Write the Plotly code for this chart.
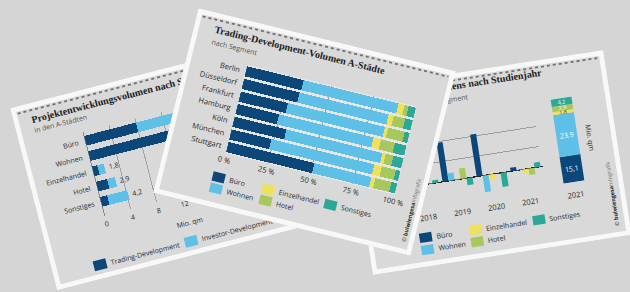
import json
import plotly.graph_objects as go

# ------------------------------------------------------------------ data
SEGMENTS = ["Büro", "Wohnen", "Einzelhandel", "Hotel", "Sonstiges"]

# Card 1: Projektentwicklungsvolumen nach Segment (Mio. qm)
c1_segments = ["Büro", "Wohnen", "Einzelhandel", "Hotel", "Sonstiges"]
c1_series = ["Trading-Development", "Investor-Development"]
c1_trading = [8.0, 14.6, 0.8, 1.7, 1.1]
c1_investor = [7.1, 9.3, 1.0, 1.2, 3.1]
c1_ticks = [0, 4, 8, 12, 16, 20, 24]

# Card 2: Trading-Development-Volumen A-Städte (Anteile in %)
c2_cities = ["Berlin", "Düsseldorf", "Frankfurt", "Hamburg", "Köln", "München", "Stuttgart"]
c2_buero = [33.5, 32.9, 27.9, 24.5, 30.7, 23.6, 50.9]
c2_wohnen = [56.2, 52.8, 57.4, 55.9, 56.8, 61.0, 33.7]
c2_einzel = [3.6, 3.0, 2.0, 4.5, 2.0, 4.4, 2.4]
c2_hotel = [2.4, 6.9, 9.8, 8.2, 4.6, 8.4, 9.5]
c2_sonst = [4.3, 4.4, 2.9, 6.9, 5.9, 2.6, 3.5]
c2_ticks = [0, 25, 50, 75, 100]
c2_ticklabels = ["0 %", "25 %", "50 %", "75 %", "100 %"]

# Card 3: Veränderung nach Studienjahr (Mio. qm) + Volumen 2021
c3_years = ["2018", "2019", "2020", "2021"]
c3_buero = [1.2, 3.9, 4.2, 0.35]
c3_wohnen = [2.2, 0.75, -1.65, 0.05]
c3_einzel = [-0.2, 0.05, -0.55, -0.4]
c3_hotel = [0.05, 1.05, 0.02, -0.65]
c3_sonst = [0.3, -0.7, -1.4, 0.5]
c3_stack_year = "2021"
c3_stack = [15.1, 23.9, 1.8, 2.9, 4.2]

# ------------------------------------------------------------------ styles
BG = "#d5d5d5"
INNER = "#d9d9d9"
BORDER = "#f8f8f8"
TEXT = "#2a2a2a"
SANS = "Open Sans"
SERIF = "Liberation Serif"
COLORS = ["#0b4778", "#5ec0e6", "#efe25a", "#a7c85c", "#2ba897"]


def fx(x, W):
    return x / W


def fy(y, H):
    return 1 - y / H


def frame(W, H):
    return [
        dict(type="line", xref="paper", yref="paper", x0=fx(6, W), x1=fx(W - 6, W),
             y0=fy(7, H), y1=fy(7, H), line=dict(color="#707070", width=1.8, dash="dot"),
             layer="above"),
        dict(type="rect", xref="paper", yref="paper", x0=0, x1=1, y0=0, y1=1,
             line=dict(color=BORDER, width=10), fillcolor="rgba(0,0,0,0)", layer="above"),
    ]


def legend_items(entries, W, H, sw=12.5, sh=9.5, size=7):
    shapes, annos = [], []
    for label, color, cx, cy in entries:
        shapes.append(dict(type="rect", xref="paper", yref="paper",
                           x0=fx(cx - sw / 2, W), x1=fx(cx + sw / 2, W),
                           y0=fy(cy + sh / 2, H), y1=fy(cy - sh / 2, H),
                           fillcolor=color, line=dict(width=0), layer="above"))
        annos.append(dict(xref="paper", yref="paper", x=fx(cx + sw / 2 + 2.5, W), y=fy(cy, H),
                          text=label, showarrow=False, xanchor="left", yanchor="middle",
                          font=dict(size=size, color=TEXT, family=SANS)))
    return shapes, annos


def text_anno(text, x, y, W, H, size=7, color=TEXT, family=SANS, xanchor="left", angle=0):
    return dict(xref="paper", yref="paper", x=fx(x, W), y=fy(y, H), text=text, showarrow=False,
                xanchor=xanchor, yanchor="middle", textangle=angle,
                font=dict(size=size, color=color, family=family))


def base_layout(W, H, plot_bg):
    return dict(template="none", width=W, height=H, margin=dict(l=0, r=0, t=0, b=0),
                paper_bgcolor=INNER, plot_bgcolor=plot_bg, showlegend=False,
                font=dict(family=SANS, size=7.5, color=TEXT))


def de(v):
    return ("%.1f" % v).replace(".", ",")


COPYRIGHT = "© <b>bulwiengesa</b><span style='color:#777'>Infografik</span>"

# ------------------------------------------------------------------ card 1
W1, H1 = 290, 188
fig1 = go.Figure()
for name, vals, col in zip(c1_series, [c1_trading, c1_investor], [COLORS[0], COLORS[1]]):
    fig1.add_trace(go.Bar(y=c1_segments, x=vals, orientation="h", name=name,
                          marker=dict(color=col, line=dict(width=0))))
lay1 = base_layout(W1, H1, INNER)
lay1.update(
    barmode="stack", bargap=0.37,
    xaxis=dict(domain=[fx(64.7, W1), fx(225.5, W1)], range=[0, 24], tickvals=c1_ticks,
               showgrid=True, gridcolor="#a3a3a3", gridwidth=1, zeroline=True,
               zerolinecolor="#8a8a8a", zerolinewidth=1, showline=False, ticks="",
               tickfont=dict(size=7), ticklabelstandoff=3),
    yaxis=dict(domain=[fy(127.7, H1), fy(40.8, H1)], type="category", range=[4.9, -0.6],
               showgrid=False, zeroline=False, ticks="", tickfont=dict(size=7),
               ticklabelstandoff=6),
)
annos1 = [
    text_anno("<b>Projektentwicklungsvolumen nach Segment</b>", 16, 16.6, W1, H1, size=10,
              color="#1b1b1b", family=SERIF),
    text_anno("in den A-Städten", 16, 27.5, W1, H1, size=7, color="#555"),
    text_anno("Mio. qm", 145, 155, W1, H1, size=7, xanchor="center"),
]
for seg, t, i in zip(c1_segments, c1_trading, c1_investor):
    annos1.append(dict(xref="x", yref="y", x=t + i, y=seg, text=de(t + i), showarrow=False,
                       xanchor="left", yanchor="middle", xshift=2,
                       font=dict(size=7, color=TEXT, family=SANS)))
lsh1, lan1 = legend_items([(c1_series[0], COLORS[0], 48, 174),
                           (c1_series[1], COLORS[1], 142, 174)], W1, H1, sw=13, sh=10)
lay1["shapes"] = lsh1 + frame(W1, H1)
lay1["annotations"] = annos1 + lan1
fig1.update_layout(lay1)

# ------------------------------------------------------------------ card 2
W2, H2 = 265, 190
fig2 = go.Figure()
for name, vals, col in zip(SEGMENTS, [c2_buero, c2_wohnen, c2_einzel, c2_hotel, c2_sonst], COLORS):
    fig2.add_trace(go.Bar(y=c2_cities, x=vals, orientation="h", name=name,
                          marker=dict(color=col, line=dict(width=0))))
lay2 = base_layout(W2, H2, "#e6e6e6")
lay2.update(
    barmode="stack", bargap=0.2,
    xaxis=dict(domain=[fx(61, W2), fx(235, W2)], range=[0, 100], tickvals=c2_ticks,
               ticktext=c2_ticklabels, showgrid=True, gridcolor="#a0a0a0", gridwidth=1,
               zeroline=False, showline=False, ticks="", tickfont=dict(size=7.5),
               ticklabelstandoff=1),
    yaxis=dict(domain=[fy(134.5, H2), fy(43.5, H2)], autorange="reversed", type="category",
               showgrid=False, zeroline=False, ticks="", tickfont=dict(size=7.5),
               ticklabelstandoff=5),
)
lsh2, lan2 = legend_items([(SEGMENTS[0], COLORS[0], 60, 159.5), (SEGMENTS[1], COLORS[1], 60, 171),
                           (SEGMENTS[2], COLORS[2], 111, 159.5), (SEGMENTS[3], COLORS[3], 111, 171),
                           (SEGMENTS[4], COLORS[4], 175, 159.5)], W2, H2)
lay2["shapes"] = lsh2 + frame(W2, H2)
lay2["annotations"] = [
    text_anno("<b>Trading-Development-Volumen A-Städte</b>", 19, 16.5, W2, H2, size=10,
              color="#1b1b1b", family=SERIF),
    text_anno("nach Segment", 19, 29, W2, H2, size=7, color="#555"),
    text_anno(COPYRIGHT, 255, 146, W2, H2, size=5.5, xanchor="center", angle=-90),
] + lan2
fig2.update_layout(lay2)

# ------------------------------------------------------------------ card 3
W3, H3 = 262, 187
fig3 = go.Figure()
for name, vals, col in zip(SEGMENTS, [c3_buero, c3_wohnen, c3_einzel, c3_hotel, c3_sonst], COLORS):
    fig3.add_trace(go.Bar(x=c3_years, y=vals, name=name, xaxis="x", yaxis="y",
                          marker=dict(color=col, line=dict(width=0))))
stack_annos = []
running = 0.0
label_colors = ["#ffffff", "#ffffff", "#333333", "#ffffff", "#ffffff"]
label_sizes = [7, 7, 5.5, 5.5, 5.5]
for name, v, col, lc, ls in zip(SEGMENTS, c3_stack, COLORS, label_colors, label_sizes):
    fig3.add_trace(go.Bar(x=[c3_stack_year], y=[v], base=[running], width=[0.8], offset=[-0.4],
                          name=name, xaxis="x2", yaxis="y2",
                          marker=dict(color=col, line=dict(width=0))))
    stack_annos.append(dict(xref="x2", yref="y2", x=0, y=running + v / 2,
                            text=de(v), showarrow=False, xanchor="center", yanchor="middle",
                            font=dict(size=ls, color=lc, family=SANS)))
    running += v
lay3 = base_layout(W3, H3, INNER)
lay3.update(
    barmode="group", bargap=0.12, bargroupgap=0,
    xaxis=dict(domain=[fx(46.7, W3), fx(184.3, W3)], type="category", anchor="y",
               showgrid=False, zeroline=False, showline=False, ticks="",
               tickfont=dict(size=7.5), ticklabelstandoff=7),
    yaxis=dict(domain=[fy(125.9, H3), fy(45.1, H3)], range=[-2, 6], dtick=2, anchor="x",
               showgrid=True, gridcolor="#8f8f8f", gridwidth=0.8, zeroline=True,
               zerolinecolor="#1e1e1e", zerolinewidth=1.2, showticklabels=False, ticks=""),
    xaxis2=dict(domain=[fx(199.9, W3), fx(226.1, W3)], type="category", anchor="y2",
                range=[-0.5, 0.5], showgrid=False, zeroline=False, showline=False, ticks="",
                tickfont=dict(size=7.5), ticklabelstandoff=7),
    yaxis2=dict(domain=[fy(126, H3), fy(41, H3)], range=[0, sum(c3_stack)], anchor="x2",
                showgrid=False, zeroline=False, showline=False, showticklabels=False, ticks=""),
)
lsh3, lan3 = legend_items([(SEGMENTS[0], COLORS[0], 58, 158), (SEGMENTS[1], COLORS[1], 58, 170.4),
                           (SEGMENTS[2], COLORS[2], 108.3, 158), (SEGMENTS[3], COLORS[3], 108.3, 170.2),
                           (SEGMENTS[4], COLORS[4], 172.6, 158)], W3, H3)
lay3["shapes"] = lsh3 + frame(W3, H3)
lay3["annotations"] = [
    text_anno("<b>Änderung des Volumens nach Studienjahr</b>", 15, 12, W3, H3, size=10,
              color="#1b1b1b", family=SERIF),
    text_anno("in den A-Städten, nach Segment", 15, 25.5, W3, H3, size=7, color="#555"),
    text_anno("Mio. qm", 236, 84, W3, H3, size=7, xanchor="center", angle=90),
    text_anno(COPYRIGHT, 249, 144, W3, H3, size=5.5, xanchor="center", angle=-90),
] + stack_annos + lan3
fig3.update_layout(lay3)

# ------------------------------------------------------------------ page
fig = go.Figure()
fig.update_layout(width=630, height=292, margin=dict(l=0, r=0, t=0, b=0),
                  paper_bgcolor=BG, plot_bgcolor=BG,
                  xaxis=dict(visible=False), yaxis=dict(visible=False))

cards = [
    dict(fig=json.loads(fig1.to_json()), cx=173.9, cy=162.7, w=W1, h=H1, angle=-14.5),
    dict(fig=json.loads(fig3.to_json()), cx=487.5, cy=162.75, w=W3, h=H3, angle=-8.8),
    dict(fig=json.loads(fig2.to_json()), cx=304.0, cy=131.5, w=W2, h=H2, angle=13.8),
]

post = """
document.documentElement.style.overflow='hidden';
document.body.style.overflow='hidden';
document.body.style.margin='0';
document.body.style.background='__BG__';
var cards = __CARDS__;
cards.forEach(function(c){
  var d = document.createElement('div');
  d.style.position='absolute';
  d.style.left=(c.cx - c.w/2)+'px';
  d.style.top=(c.cy - c.h/2)+'px';
  d.style.width=c.w+'px';
  d.style.height=c.h+'px';
  d.style.transform='rotate('+c.angle+'deg)';
  d.style.transformOrigin='50% 50%';
  d.style.overflow='hidden';
  document.body.appendChild(d);
  Plotly.newPlot(d, c.fig.data, c.fig.layout, {staticPlot:true, displayModeBar:false});
});
""".replace("__BG__", BG).replace("__CARDS__", json.dumps(cards))

fig.write_html("out.html", config={"displayModeBar": False}, post_script=post)
